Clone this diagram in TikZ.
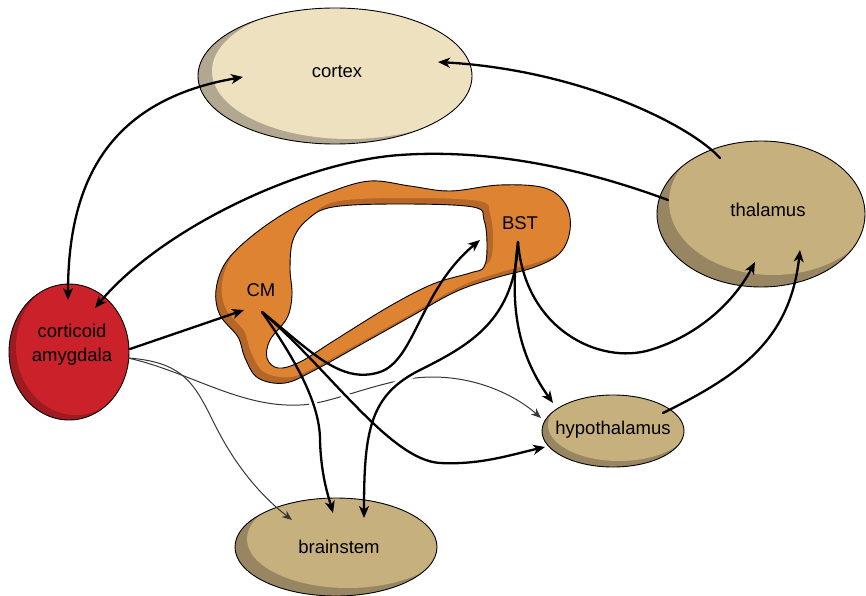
\documentclass[tikz,border=0pt]{standalone}
\usepackage{fontspec}
\setmainfont{Liberation Sans}
\usetikzlibrary{arrows.meta,shapes.geometric}
\definecolor{ctxlight}{RGB}{238,225,192}
\definecolor{ctxdark}{RGB}{178,168,145}
\definecolor{tanlight}{RGB}{198,176,126}
\definecolor{tandark}{RGB}{152,134,98}
\definecolor{redlight}{RGB}{202,33,42}
\definecolor{reddark}{RGB}{158,27,34}
\definecolor{orlight}{RGB}{221,131,50}
\definecolor{ordark}{RGB}{180,103,40}
\definecolor{thingray}{RGB}{55,55,55}
\newcommand\myblob[8]{%
  \fill[#6dark] (#2,#3) ellipse [x radius=#4, y radius=#5];
  \begin{scope}
    \clip (#2,#3) ellipse [x radius=#4, y radius=#5];
    \fill[#6light] (#2+#7,#3-#8) ellipse [x radius=#4, y radius=#5];
  \end{scope}
  \node[ellipse, draw=black, line width=0.9pt, minimum width=2*#4pt, minimum height=2*#5pt, inner sep=0pt] (#1) at (#2,#3) {};
}
\tikzset{
  lbl/.style={font=\fontsize{18.5}{24}\selectfont, text=black, align=center},
  conn/.style={line width=2.3pt, line cap=round, -{Stealth[length=12pt,width=10pt,inset=3.5pt]}},
  thinconn/.style={line width=1pt, draw=thingray, -{Stealth[length=10pt,width=8pt,inset=3pt]}},
  halo/.style={line width=8pt, draw=white},
  ringpath/.style={insert path={
    plot[smooth cycle, tension=0.6] coordinates {(216,290) (226,262) (252,236) (290,210) (330,192) (370,181) (410,186) (450,191) (500,185) (545,188) (566,205) (570,230) (560,253) (535,267) (495,278) (455,292) (410,317) (360,345) (315,370) (285,383) (258,378) (245,358) (238,337) (220,315)}
    plot[smooth cycle, tension=0.6] coordinates {(293,240) (307,220) (333,207) (400,204) (473,207) (484,220) (487,245) (484,267) (470,273) (433,284) (390,306) (335,340) (300,362) (278,368) (267,358) (270,340) (287,318) (292,295) (290,268)}
  }},
  pCMbs/.style={insert path={(cmSrc) .. controls (290,352) and (320,400) .. (320,440) .. controls (321,475) and (328,495) .. (bsA)}},
  pCMhypo/.style={insert path={(cmSrc) .. controls (330,370) and (390,460) .. (440,463) .. controls (480,465) and (510,455) .. (hypoL2)}},
  pBSTbs/.style={insert path={(bstSrc) .. controls (515,320) and (470,345) .. (420,370) .. controls (370,395) and (364,430) .. (bsB)}},
}
\begin{document}
\begin{tikzpicture}[x=1pt,y=-1pt]
\useasboundingbox (0,0) rectangle (866,596);
\fill[white] (0,0) rectangle (866,596);

% regions
\myblob{cortex}{335}{76}{137}{68}{ctx}{14}{5}
\myblob{thalamus}{761}{214}{104}{73}{tan}{12}{12}
\myblob{hypo}{613}{431}{71}{36}{tan}{6}{6}
\myblob{brainstem}{336}{547}{101}{49}{tan}{12}{8}
\myblob{amy}{69}{352}{60}{68}{red}{7}{5}

% CM / BST ring
\fill[ordark, even odd rule, ringpath];
\begin{scope}[even odd rule]
  \path[clip, ringpath];
  \fill[orlight, even odd rule, shift={(6,-6)}, ringpath];
\end{scope}
\draw[line width=0.9pt, even odd rule, ringpath];

% labels
\node[lbl] (ctxlbl) at (337,72) {cortex};
\node[lbl] (thallbl) at (768,210) {thalamus};
\node[lbl] (hypolbl) at (613,430) {hypothalamus};
\node[lbl] (bslbl) at (339,547) {brainstem};
\node[lbl] (amylbl) at (72,345) {corticoid\\amygdala};
\node[lbl] (cm) at (261,290) {CM};
\node[lbl] (bst) at (520,223) {BST};

% endpoints
\coordinate (amyTop) at (68,300);
\coordinate (ctxL) at (243,77);
\coordinate (thalTop) at (720,158);
\coordinate (ctxR) at (438,62);
\coordinate (thalL) at (668,200);
\coordinate (amyTR) at (95,308);
\coordinate (amyR) at (130,349);
\coordinate (cmIn) at (244,310);
\coordinate (amyR2) at (128,358);
\coordinate (hypoL) at (541,418);
\coordinate (bsL) at (292,520);
\coordinate (cmSrc) at (262,312);
\coordinate (bsA) at (333,513);
\coordinate (hypoL2) at (545,447);
\coordinate (bstIn) at (480,240);
\coordinate (bstSrc) at (518,242);
\coordinate (hypoT) at (553,403);
\coordinate (thalB1) at (755,262);
\coordinate (bsB) at (364,518);
\coordinate (hypoR) at (663,413);
\coordinate (thalB2) at (800,250);

% thin connectors
\draw[thinconn] (amyR2) .. controls (190,372) and (240,408) .. (300,405) .. controls (330,404) and (370,384) .. (415,378) .. controls (470,372) and (515,395) .. (hypoL);
\draw[thinconn] (amyR2) .. controls (185,362) and (195,385) .. (215,425) .. controls (235,465) and (260,495) .. (bsL);

% halos where thick lines cross the thin one
\begin{scope}
  \clip (295,392) -- (295,416) -- (360,410) -- (432,392) -- (432,366) -- (360,380) -- (330,390) -- cycle;
  \draw[halo, pCMbs];
  \draw[halo, pCMhypo];
  \draw[halo, pBSTbs];
\end{scope}

% thick connectors
\draw[line width=2.3pt, {Stealth[length=12pt,width=10pt,inset=3.5pt]}-{Stealth[length=12pt,width=10pt,inset=3.5pt]}] (amyTop) .. controls (68,180) and (110,100) .. (ctxL);
\draw[conn] (thalTop) .. controls (690,125) and (580,70) .. (ctxR);
\draw[conn] (thalL) .. controls (560,160) and (470,150) .. (400,155) .. controls (300,162) and (160,230) .. (amyTR);
\draw[conn] (amyR) -- (cmIn);
\draw[conn, pCMbs];
\draw[conn, pCMhypo];
\draw[conn] (cmSrc) .. controls (310,350) and (340,385) .. (380,372) .. controls (415,360) and (420,290) .. (bstIn);
\draw[conn] (bstSrc) .. controls (510,300) and (515,350) .. (hypoT);
\draw[conn] (bstSrc) .. controls (525,330) and (600,365) .. (650,350) .. controls (700,335) and (735,300) .. (thalB1);
\draw[conn, pBSTbs];
\draw[conn] (hypoR) .. controls (740,375) and (790,340) .. (thalB2);
\end{tikzpicture}
\end{document}
